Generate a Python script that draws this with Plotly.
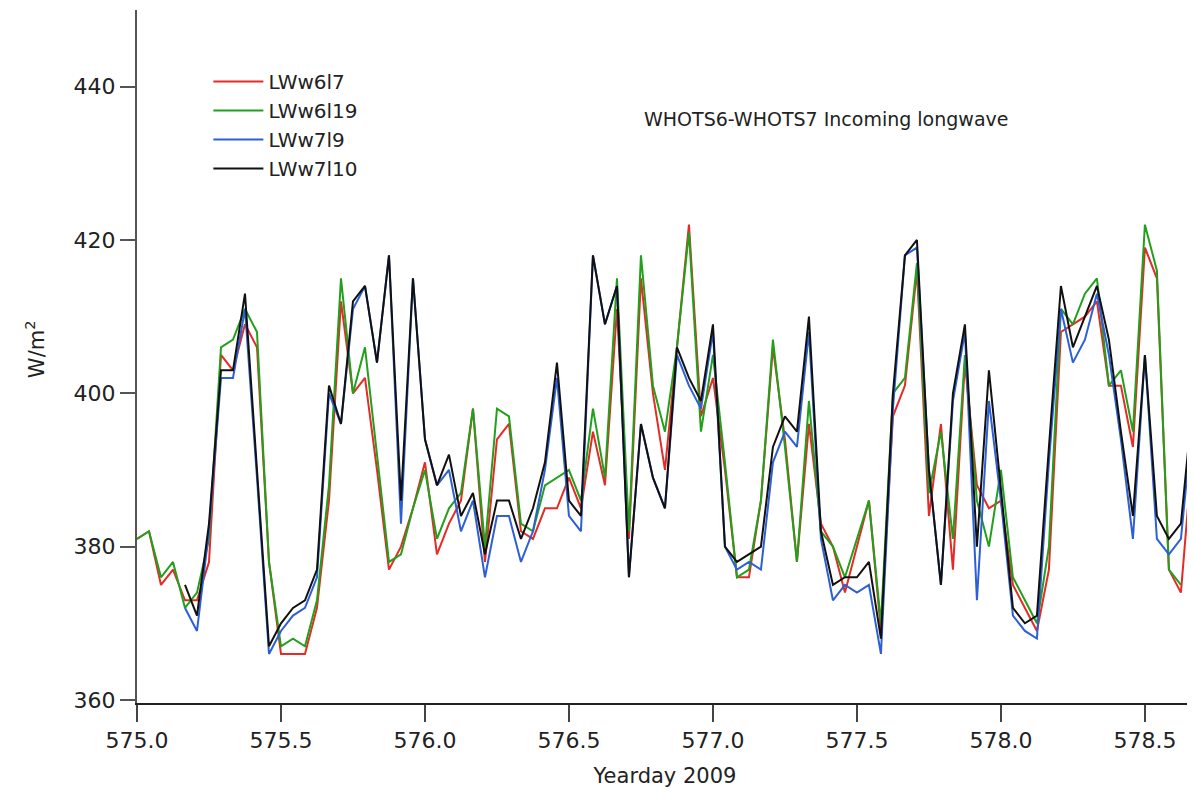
import plotly.graph_objects as go

# hourly samples starting at yearday 575.0
start_day = 575.0
n_hours = 89

lw_w6l7 = [381, 382, 375, 377, 373, 373, 378, 405, 403, 409, 406, 378, 366, 366, 366, 372,
           386, 412, 400, 402, 390, 377, 380, 385, 391, 379, 383, 386, 398, 378, 394, 396,
           382, 381, 385, 385, 389, 385, 395, 388, 411, 381, 415, 400, 390, 406, 422, 397,
           402, 390, 376, 376, 386, 406, 394, 378, 396, 383, 380, 374, 380, 386, 369, 397,
           401, 416, 384, 396, 377, 404, 388, 385, 386, 375, 372, 369, 377, 408, 409, 410,
           412, 401, 401, 393, 419, 415, 377, 374, 393]

lw_w6l19 = [381, 382, 376, 378, 372, 374, 381, 406, 407, 411, 408, 378, 367, 368, 367, 373,
            388, 415, 400, 406, 392, 378, 379, 385, 390, 381, 385, 387, 398, 380, 398, 397,
            383, 382, 388, 389, 390, 386, 398, 389, 415, 382, 418, 401, 395, 406, 421, 395,
            405, 391, 376, 377, 386, 407, 393, 378, 399, 382, 380, 376, 381, 386, 370, 400,
            402, 417, 387, 395, 381, 405, 386, 380, 390, 376, 373, 370, 380, 411, 409, 413,
            415, 401, 403, 395, 422, 416, 377, 375, None]

lw_w7l9 = [None, None, None, None, 372, 369, 382, 402, 402, 411, 389, 366, 369, 371, 372, 376,
           400, 396, 411, 414, 404, 418, 383, 415, 394, 388, 390, 382, 386, 376, 384, 384,
           378, 382, 390, 402, 384, 382, 418, 409, 414, 376, 396, 389, 385, 405, 401, 398,
           408, 380, 377, 378, 377, 391, 395, 393, 408, 381, 373, 375, 374, 375, 366, 398,
           418, 419, 390, 375, 399, 408, 373, 399, 386, 371, 369, 368, 391, 411, 404, 407,
           413, 405, 394, 381, 405, 381, 379, 381, 397]

lw_w7l10 = [None, None, None, None, 375, 371, 383, 403, 403, 413, 390, 367, 370, 372, 373, 377,
            401, 396, 412, 414, 404, 418, 386, 415, 394, 388, 392, 384, 387, 379, 386, 386,
            381, 385, 391, 404, 386, 384, 418, 409, 414, 376, 396, 389, 385, 406, 402, 399,
            409, 380, 378, 379, 380, 393, 397, 395, 410, 382, 375, 376, 376, 378, 368, 400,
            418, 420, 390, 375, 400, 409, 380, 403, 387, 372, 370, 371, 393, 414, 406, 410,
            414, 407, 395, 384, 405, 384, 381, 383, 399]

yearday = [start_day + i / 24 for i in range(n_hours)]

series = [
    ("LWw6l7", lw_w6l7, "#e52b25"),
    ("LWw6l19", lw_w6l19, "#22a01c"),
    ("LWw7l9", lw_w7l9, "#2d5fd6"),
    ("LWw7l10", lw_w7l10, "#111111"),
]

fig = go.Figure()
for name, vals, col in series:
    fig.add_trace(go.Scatter(x=yearday, y=vals, mode="lines", name=name,
                             line=dict(color=col, width=2)))

fig.add_annotation(text="WHOTS6-WHOTS7 Incoming longwave", xref="paper", yref="paper",
                   x=0.478, y=0.842, xanchor="left", yanchor="middle", showarrow=False,
                   font=dict(size=19, color="#222"))
# y title placed by hand, further left than plotly's axis title would go
fig.add_annotation(text="W/m<sup>2</sup>", xref="paper", yref="paper",
                   x=-0.097, y=0.51, xanchor="center", yanchor="middle", showarrow=False,
                   textangle=-90, font=dict(size=21, color="#222"))

# the page body adds an 8px offset, so the figure is sized a bit smaller
fig.update_layout(
    width=1187, height=790,
    margin=dict(l=129, r=2, t=2, b=95),
    paper_bgcolor="white", plot_bgcolor="white",
    font=dict(family="DejaVu Sans", size=22, color="#222"),
    showlegend=True,
    legend=dict(x=0.0676, y=0.925, xanchor="left", yanchor="top",
                bgcolor="rgba(0,0,0,0)", font=dict(size=20), tracegroupgap=0,
                itemwidth=50),
)
fig.update_xaxes(range=[575.0, 578.667], tickvals=[575.0, 575.5, 576.0, 576.5, 577.0, 577.5, 578.0, 578.5],
                 tickformat=".1f", showgrid=False, zeroline=False, automargin=False,
                 showline=True, linecolor="#222", linewidth=2,
                 ticks="outside", ticklen=17, tickwidth=1.5, tickcolor="#444",
                 tickfont=dict(size=22),
                 title=dict(text="Yearday 2009", font=dict(size=21), standoff=16))
fig.update_yaxes(range=[359.6, 450], tickvals=[360, 380, 400, 420, 440],
                 showgrid=False, zeroline=False, automargin=False,
                 showline=True, linecolor="#555", linewidth=2,
                 ticks="outside", ticklen=15, tickwidth=1.5, tickcolor="#555",
                 tickfont=dict(size=22))

fig.write_html("out.html")
